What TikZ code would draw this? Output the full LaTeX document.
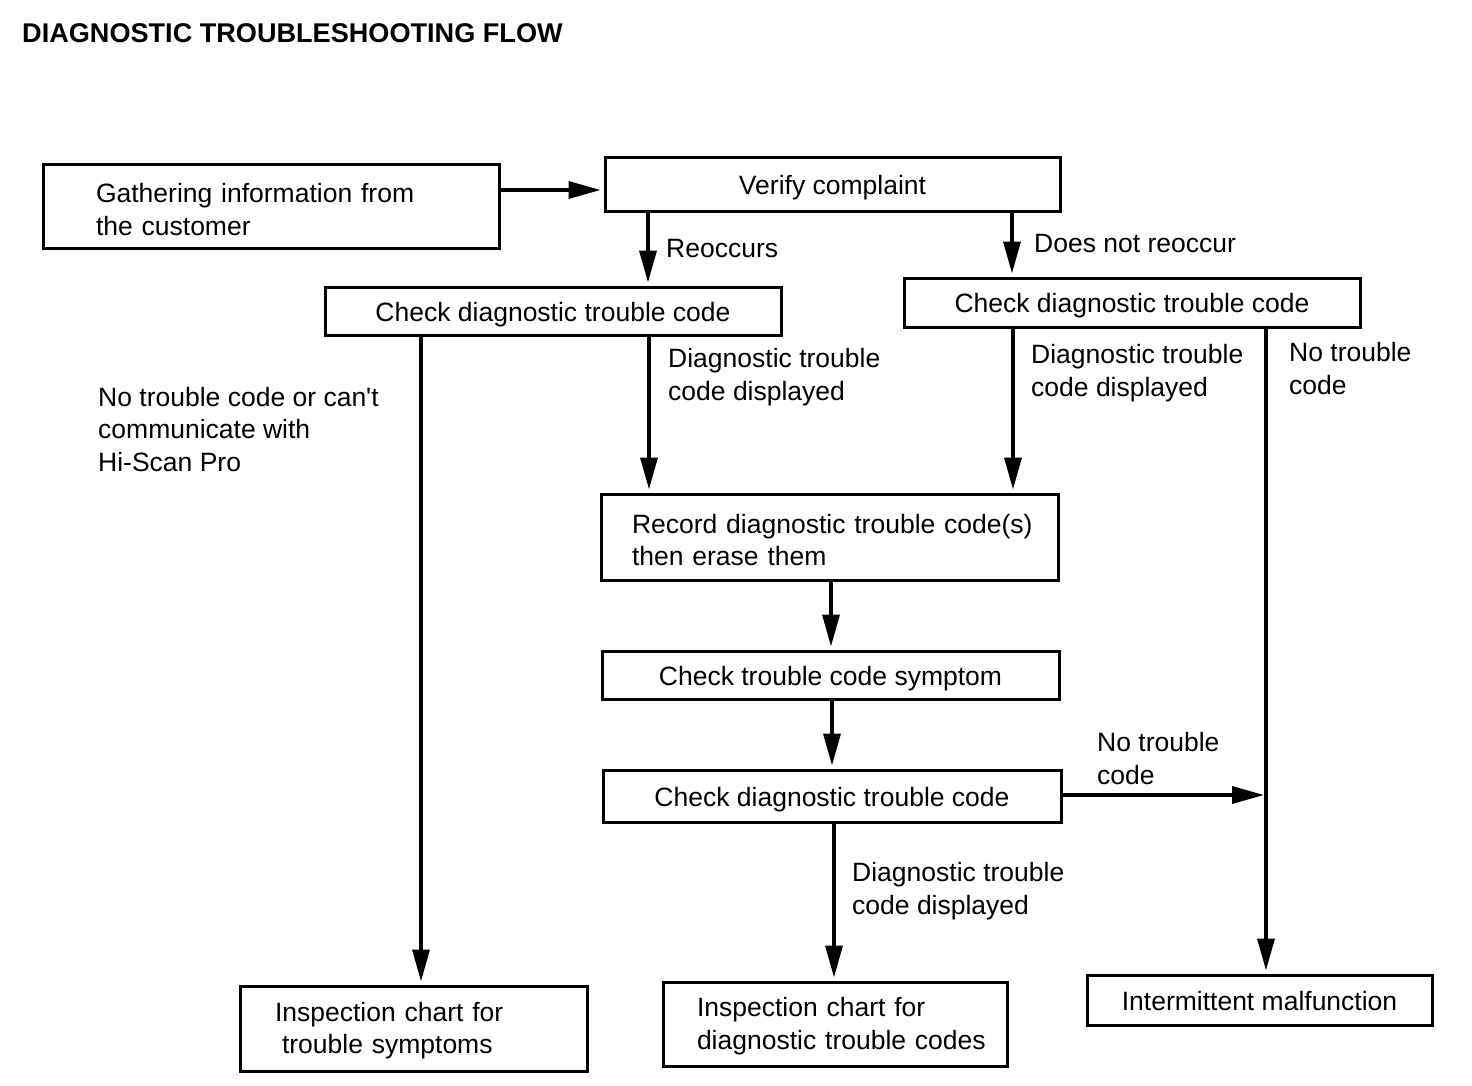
\documentclass[tikz,border=0pt]{standalone}
\usepackage{fontspec}
\setmainfont{Liberation Sans}
\usetikzlibrary{arrows.meta}
\begin{document}
\begin{tikzpicture}[x=1pt,y=-1pt,
  every node/.style={font=\fontsize{26.5}{32.5}\selectfont},
  box/.style={draw, line width=3pt, inner sep=0pt},
  one/.style={box, text height=25pt, text depth=5pt},
  lbl/.style={anchor=base west, align=left, inner sep=0pt},
  arr/.style={line width=3.5pt, -{Triangle[length=32pt,width=17pt]}, shorten >=3pt}]
\useasboundingbox (0,0) rectangle (1472,1086);
\node[anchor=base west, inner sep=0pt, font=\fontsize{27.1}{30}\selectfont\bfseries] (title) at (22,43) {DIAGNOSTIC TROUBLESHOOTING FLOW};

\node[box, minimum width=456pt, minimum height=83pt, text width=350pt, align=left] (gather) at (271,206.5) {\rule{0pt}{25pt}Gathering information from\\the customer};
\node[one, minimum width=455pt, minimum height=54pt] (verify) at (832.5,185) {Verify complaint};
\node[one, minimum width=456pt, minimum height=48pt] (chkL) at (553,311) {Check diagnostic trouble code};
\node[one, minimum width=456pt, minimum height=49pt] (chkR) at (1132,302.5) {Check diagnostic trouble code};
\node[box, minimum width=457pt, minimum height=86pt, text width=395pt, align=left] (record) at (829.5,537) {\rule{0pt}{25pt}\mbox{Record diagnostic trouble code(s)}\\then erase them};
\node[one, minimum width=457pt, minimum height=48pt] (symptom) at (830.5,675) {Check trouble code symptom};
\node[one, minimum width=458pt, minimum height=52pt] (chkB) at (832,796) {Check diagnostic trouble code};
\node[box, minimum width=347pt, minimum height=85pt, text width=277pt, align=left] (insS) at (413.5,1028.5) {\rule{0pt}{23.5pt}Inspection chart for\\\hspace*{7pt}trouble symptoms};
\node[box, minimum width=344pt, minimum height=84pt, text width=276pt, align=left] (insD) at (835,1024) {\rule{0pt}{23pt}Inspection chart for\\\mbox{diagnostic trouble codes}};
\node[one, minimum width=345pt, minimum height=50pt] (inter) at (1259.5,1000) {Intermittent malfunction};

\coordinate (join) at (1266,795);

\draw[arr] (gather.east |- 0,190) -- (verify.west |- 0,190);
\draw[arr] (verify.south -| 648,0) -- (chkL.north -| 648,0);
\draw[arr] (verify.south -| 1012,0) -- (chkR.north -| 1012,0);
\draw[arr] (chkL.south -| 649,0) -- (record.north -| 649,0);
\draw[arr] (chkL.south -| 421,0) -- (insS.north -| 421,0);
\draw[arr] (chkR.south -| 1013,0) -- (record.north -| 1013,0);
\draw[arr] (chkR.south -| 1266,0) -- (inter.north -| 1266,0);
\draw[arr] (record.south -| 831,0) -- (symptom.north -| 831,0);
\draw[arr] (symptom.south -| 832,0) -- (chkB.north -| 832,0);
\draw[arr, shorten >=2pt] (chkB.east |- join) -- (join);
\draw[arr] (chkB.south -| 834,0) -- (insD.north -| 834,0);

\node[lbl] (l1) at (666,257) {Reoccurs};
\node[lbl] (l2) at (1034,252) {Does not reoccur};
\node[lbl] (l3) at (668,400) {Diagnostic trouble\\code displayed};
\node[lbl] (l4) at (98,471) {No trouble code or can\textquotesingle t\\communicate with\\Hi-Scan Pro};
\node[lbl] (l5) at (1031,396) {Diagnostic trouble\\code displayed};
\node[lbl] (l6) at (1289,394) {No trouble\\code};
\node[lbl] (l7) at (1097,784) {No trouble\\code};
\node[lbl] (l8) at (852,914) {Diagnostic trouble\\code displayed};
\end{tikzpicture}
\end{document}
